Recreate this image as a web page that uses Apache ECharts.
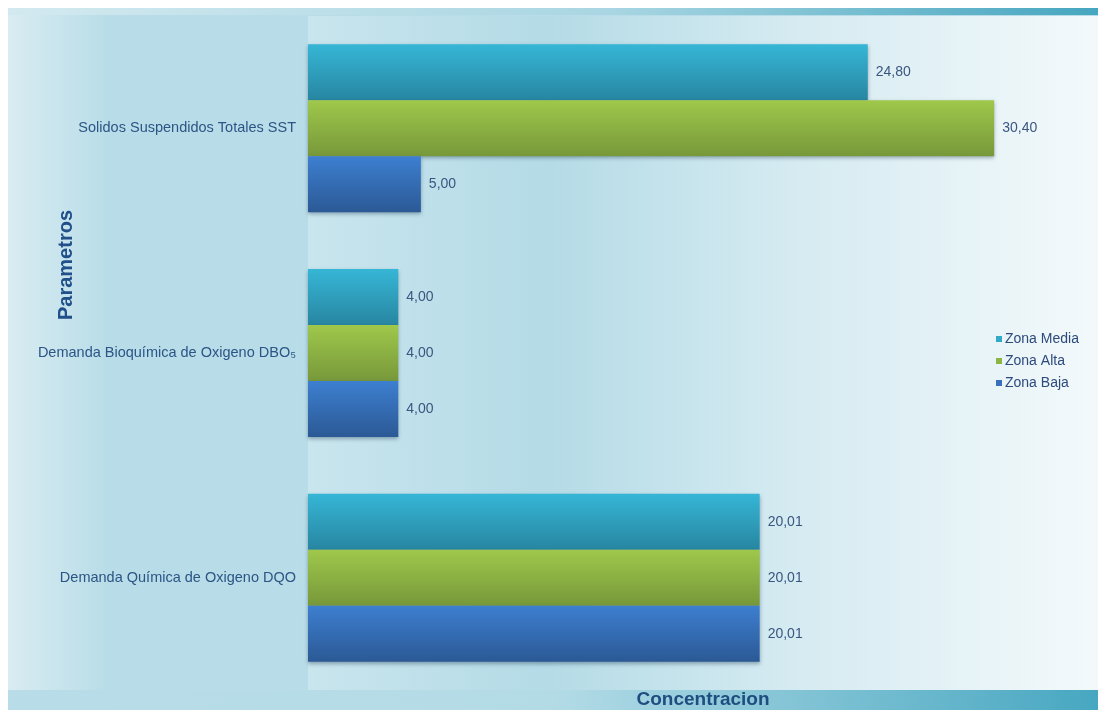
<!DOCTYPE html>
<html>
<head>
<meta charset="utf-8">
<style>
  html, body { margin: 0; padding: 0; background: #ffffff; }
  #chart { width: 1098px; height: 710px; }
</style>
<script src="https://cdn.jsdelivr.net/npm/echarts@6/dist/echarts.min.js"></script>
</head>
<body>
<div id="chart"></div>
<script>
// Parameters measured in each zone
const categories = [
  'Solidos Suspendidos Totales SST',
  'Demanda Bioquímica de Oxigeno DBO₅',
  'Demanda Química de Oxigeno DQO'
];
const seriesNames = ['Zona Media', 'Zona Alta', 'Zona Baja'];
const zonaMedia = [24.80, 4.00, 20.01];
const zonaAlta = [30.40, 4.00, 20.01];
const zonaBaja = [5.00, 4.00, 20.01];

const FONT = '"Liberation Sans", Arial, "DejaVu Sans", sans-serif';

// top / bottom colour for each zone's bar gradient, plus a flat legend colour
const palette = [
  { top: '#36b6d6', bottom: '#2786a1', flat: '#32a9c8' },
  { top: '#9fc84b', bottom: '#77983a', flat: '#8cb543' },
  { top: '#3d7fd0', bottom: '#2b5995', flat: '#3870be' }
];

const vGrad = (c) => new echarts.graphic.LinearGradient(0, 0, 0, 1, [
  { offset: 0, color: c.top },
  { offset: 1, color: c.bottom }
]);

const fmt = (v) => v.toFixed(2).replace('.', ',');

const chart = echarts.init(document.getElementById('chart'), null, { renderer: 'canvas' });

const seriesData = [zonaMedia, zonaAlta, zonaBaja];

chart.setOption({
  backgroundColor: '#ffffff',
  animation: false,
  textStyle: { fontFamily: FONT },
  graphic: [
    // outer panel
    {
      type: 'rect', z: -10, silent: true,
      shape: { x: 8, y: 8, width: 1090, height: 702 },
      style: {
        fill: new echarts.graphic.LinearGradient(0, 0, 1, 0, [
          { offset: 0, color: '#d9ecf2' },
          { offset: 0.09, color: '#b9dde8' },
          { offset: 1, color: '#b9dde8' }
        ])
      }
    },
    // top accent band
    {
      type: 'rect', z: -9, silent: true,
      shape: { x: 8, y: 8, width: 1090, height: 7 },
      style: {
        fill: new echarts.graphic.LinearGradient(0, 0, 1, 0, [
          { offset: 0, color: '#d3e9f0' },
          { offset: 0.55, color: '#a9d6e2' },
          { offset: 1, color: '#46a6c0' }
        ])
      }
    },
    // bottom accent band behind the axis title
    {
      type: 'rect', z: -9, silent: true,
      shape: { x: 8, y: 690, width: 1090, height: 20 },
      style: {
        fill: new echarts.graphic.LinearGradient(0, 0, 1, 0, [
          { offset: 0, color: '#b9dde8' },
          { offset: 0.5, color: '#b3dbe6' },
          { offset: 1, color: '#47a7c1' }
        ])
      }
    },
    // vertical axis title
    {
      type: 'text', z: 10, silent: true,
      x: 66, y: 265, rotation: Math.PI / 2,
      style: {
        text: 'Parametros',
        fill: '#214f8a',
        font: 'bold 20px ' + FONT,
        textAlign: 'center',
        textVerticalAlign: 'middle'
      }
    }
  ],
  grid: {
    left: 308, right: 0, top: 16, bottom: 20,
    outerBoundsMode: 'none',
    containLabel: false,
    show: true,
    borderWidth: 0,
    backgroundColor: new echarts.graphic.LinearGradient(0, 0, 1, 0, [
      { offset: 0, color: '#c9e5ee' },
      { offset: 0.3, color: '#b4dbe6' },
      { offset: 0.6, color: '#d4eaf1' },
      { offset: 1, color: '#f3f9fb' }
    ])
  },
  legend: {
    orient: 'vertical',
    left: 991, top: 327,
    itemWidth: 6, itemHeight: 6, itemGap: 8,
    icon: 'rect',
    textStyle: { fontSize: 14, color: '#2c4a7c', fontFamily: FONT, padding: [0, 0, 0, -2] },
    data: seriesNames.map((n, i) => ({ name: n, itemStyle: { color: palette[i].flat } }))
  },
  xAxis: {
    type: 'value',
    min: 0, max: 35,
    splitLine: { show: false },
    axisLine: { show: false },
    axisTick: { show: false },
    axisLabel: { show: false },
    name: 'Concentracion',
    nameLocation: 'middle',
    nameGap: 0,
    nameTextStyle: { fontSize: 19, fontWeight: 'bold', color: '#1f4d80', fontFamily: FONT }
  },
  yAxis: {
    type: 'category',
    inverse: true,
    data: categories,
    axisLine: { show: false },
    axisTick: { show: false },
    axisLabel: { fontSize: 14.5, color: '#2b5585', margin: 12, fontFamily: FONT }
  },
  series: seriesNames.map((name, i) => ({
    name,
    type: 'bar',
    data: seriesData[i],
    barWidth: 56,
    barGap: '0%',
    itemStyle: {
      color: vGrad(palette[i]),
      shadowColor: 'rgba(0, 30, 60, 0.35)',
      shadowBlur: 4,
      shadowOffsetY: 2
    },
    label: {
      show: true,
      position: 'right',
      distance: 8,
      fontSize: 14,
      color: '#3a5680',
      fontFamily: FONT,
      formatter: (p) => fmt(p.value)
    }
  }))
});
</script>
</body>
</html>
